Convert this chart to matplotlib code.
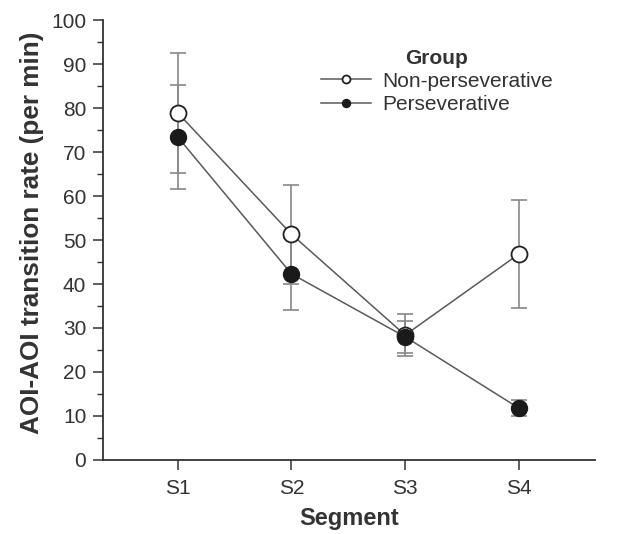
import matplotlib
matplotlib.use("Agg")
import matplotlib.pyplot as plt
from matplotlib.ticker import MultipleLocator

plt.rcParams['font.family'] = ['Liberation Sans', 'DejaVu Sans']

segments = ["S1", "S2", "S3", "S4"]
nonpers_mean = [78.9, 51.3, 28.4, 46.8]
nonpers_err = [13.6, 11.2, 4.8, 12.3]
pers_mean = [73.4, 42.3, 28.0, 11.8]
pers_err = [11.8, 8.2, 3.6, 1.8]

x = list(range(1, len(segments) + 1))
txt = '#333333'
linec = '#5a5a5a'
errc = '#888888'

fig = plt.figure(figsize=(6.37, 5.34), dpi=100)
ax = fig.add_axes([0.1617, 0.1386, 0.7723, 0.8239])

ax.errorbar(x, nonpers_mean, yerr=nonpers_err, fmt='none', ecolor=errc,
            elinewidth=1.2, capsize=6, capthick=1.2, zorder=1)
ax.errorbar(x, pers_mean, yerr=pers_err, fmt='none', ecolor=errc,
            elinewidth=1.2, capsize=6, capthick=1.2, zorder=1)
ax.plot(x, nonpers_mean, color=linec, lw=1.1, marker='o', markersize=11.5,
        markerfacecolor='white', markeredgecolor='#222222', markeredgewidth=1.3,
        label='Non-perseverative', zorder=3)
ax.plot(x, pers_mean, color=linec, lw=1.1, marker='o', markersize=11.5,
        markerfacecolor='#1a1a1a', markeredgecolor='#1a1a1a',
        label='Perseverative', zorder=3)

ax.set_xlim(0.342, 4.67)
ax.set_ylim(0, 100)
ax.set_xticks(x)
ax.set_xticklabels(segments)
ax.yaxis.set_major_locator(MultipleLocator(10))
ax.yaxis.set_minor_locator(MultipleLocator(5))
for s in ['top', 'right']:
    ax.spines[s].set_visible(False)
for s in ['left', 'bottom']:
    ax.spines[s].set_color('#333333')
    ax.spines[s].set_linewidth(1.3)
ax.tick_params(axis='both', which='major', direction='out', length=7, width=1.1,
               colors='#333333', labelsize=15, labelcolor=txt)
ax.tick_params(axis='y', which='minor', direction='out', length=4, width=1.0, colors='#333333')
ax.tick_params(axis='x', pad=7)
ax.tick_params(axis='y', pad=5)

ax.set_xlabel('Segment', fontsize=17, fontweight='bold', color=txt, labelpad=6)
ax.set_ylabel('AOI-AOI transition rate (per min)', fontsize=18.8, fontweight='bold',
              color=txt, labelpad=5)
ax.yaxis.set_label_coords(-0.119, 0.516)

leg = ax.legend(title='Group', frameon=False, markerscale=0.5, fontsize=15,
                loc='upper left', bbox_to_anchor=(0.444, 0.935), handlelength=2.4,
                handletextpad=0.5, labelspacing=0.2, borderaxespad=0,
                borderpad=0)
leg.get_title().set_fontweight('bold')
leg.get_title().set_fontsize(15)
leg.get_title().set_color(txt)
for t in leg.get_texts():
    t.set_color(txt)

fig.savefig('out.png', dpi=100)
